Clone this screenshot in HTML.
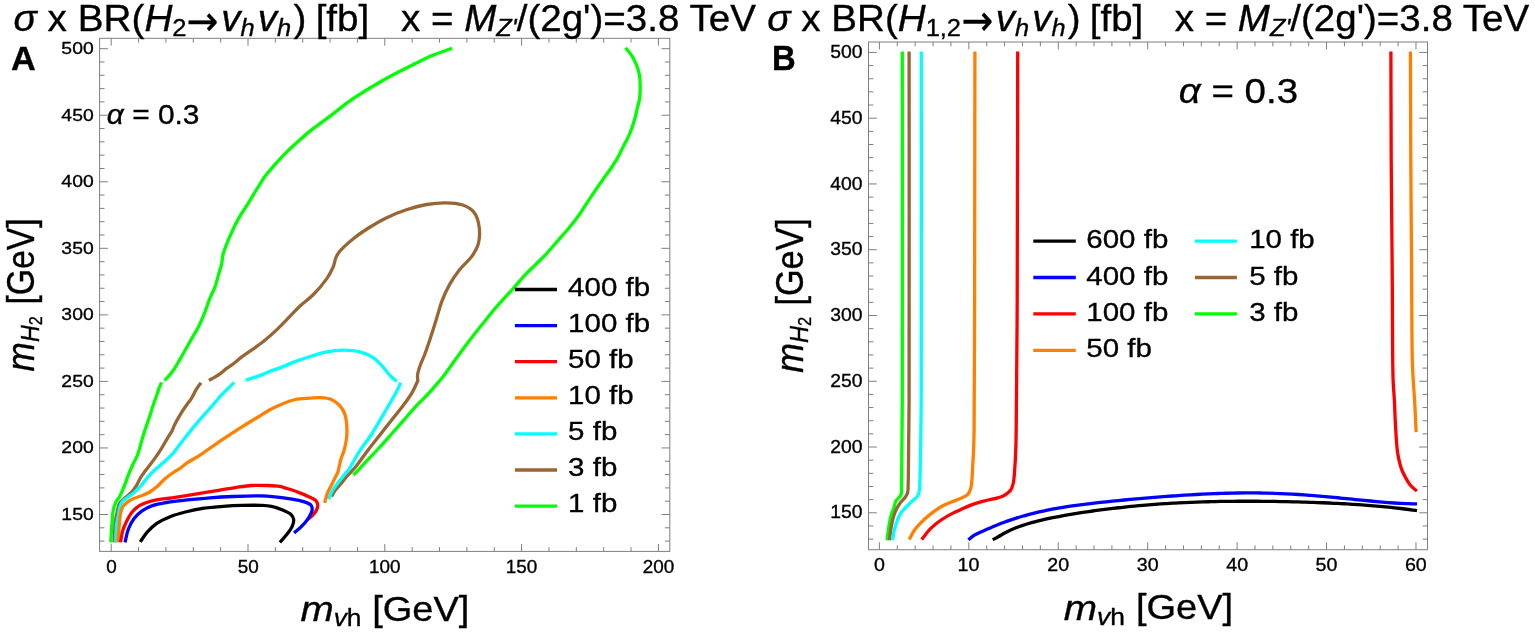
<!DOCTYPE html>
<html><head><meta charset="utf-8"><title>sigma x BR contours</title>
<style>html,body{margin:0;padding:0;background:#fff;} svg{display:block;}</style></head>
<body><svg width="1535" height="633" viewBox="0 0 1535 633" style="font-family:'Liberation Sans',Arial,sans-serif" fill="#000">
<rect width="1535" height="633" fill="#fff"/>
<rect x="99.6" y="38.3" width="570.1999999999999" height="513.1" fill="none" stroke="#7f7f7f" stroke-width="1"/>
<line x1="111.20" y1="551.4" x2="111.20" y2="544.0" stroke="#7f7f7f" stroke-width="1"/>
<line x1="111.20" y1="38.3" x2="111.20" y2="45.699999999999996" stroke="#7f7f7f" stroke-width="1"/>
<line x1="138.56" y1="551.4" x2="138.56" y2="547.1" stroke="#7f7f7f" stroke-width="1"/>
<line x1="138.56" y1="38.3" x2="138.56" y2="42.599999999999994" stroke="#7f7f7f" stroke-width="1"/>
<line x1="165.92" y1="551.4" x2="165.92" y2="547.1" stroke="#7f7f7f" stroke-width="1"/>
<line x1="165.92" y1="38.3" x2="165.92" y2="42.599999999999994" stroke="#7f7f7f" stroke-width="1"/>
<line x1="193.28" y1="551.4" x2="193.28" y2="547.1" stroke="#7f7f7f" stroke-width="1"/>
<line x1="193.28" y1="38.3" x2="193.28" y2="42.599999999999994" stroke="#7f7f7f" stroke-width="1"/>
<line x1="220.64" y1="551.4" x2="220.64" y2="547.1" stroke="#7f7f7f" stroke-width="1"/>
<line x1="220.64" y1="38.3" x2="220.64" y2="42.599999999999994" stroke="#7f7f7f" stroke-width="1"/>
<line x1="248.00" y1="551.4" x2="248.00" y2="544.0" stroke="#7f7f7f" stroke-width="1"/>
<line x1="248.00" y1="38.3" x2="248.00" y2="45.699999999999996" stroke="#7f7f7f" stroke-width="1"/>
<line x1="275.36" y1="551.4" x2="275.36" y2="547.1" stroke="#7f7f7f" stroke-width="1"/>
<line x1="275.36" y1="38.3" x2="275.36" y2="42.599999999999994" stroke="#7f7f7f" stroke-width="1"/>
<line x1="302.72" y1="551.4" x2="302.72" y2="547.1" stroke="#7f7f7f" stroke-width="1"/>
<line x1="302.72" y1="38.3" x2="302.72" y2="42.599999999999994" stroke="#7f7f7f" stroke-width="1"/>
<line x1="330.08" y1="551.4" x2="330.08" y2="547.1" stroke="#7f7f7f" stroke-width="1"/>
<line x1="330.08" y1="38.3" x2="330.08" y2="42.599999999999994" stroke="#7f7f7f" stroke-width="1"/>
<line x1="357.44" y1="551.4" x2="357.44" y2="547.1" stroke="#7f7f7f" stroke-width="1"/>
<line x1="357.44" y1="38.3" x2="357.44" y2="42.599999999999994" stroke="#7f7f7f" stroke-width="1"/>
<line x1="384.80" y1="551.4" x2="384.80" y2="544.0" stroke="#7f7f7f" stroke-width="1"/>
<line x1="384.80" y1="38.3" x2="384.80" y2="45.699999999999996" stroke="#7f7f7f" stroke-width="1"/>
<line x1="412.16" y1="551.4" x2="412.16" y2="547.1" stroke="#7f7f7f" stroke-width="1"/>
<line x1="412.16" y1="38.3" x2="412.16" y2="42.599999999999994" stroke="#7f7f7f" stroke-width="1"/>
<line x1="439.52" y1="551.4" x2="439.52" y2="547.1" stroke="#7f7f7f" stroke-width="1"/>
<line x1="439.52" y1="38.3" x2="439.52" y2="42.599999999999994" stroke="#7f7f7f" stroke-width="1"/>
<line x1="466.88" y1="551.4" x2="466.88" y2="547.1" stroke="#7f7f7f" stroke-width="1"/>
<line x1="466.88" y1="38.3" x2="466.88" y2="42.599999999999994" stroke="#7f7f7f" stroke-width="1"/>
<line x1="494.24" y1="551.4" x2="494.24" y2="547.1" stroke="#7f7f7f" stroke-width="1"/>
<line x1="494.24" y1="38.3" x2="494.24" y2="42.599999999999994" stroke="#7f7f7f" stroke-width="1"/>
<line x1="521.60" y1="551.4" x2="521.60" y2="544.0" stroke="#7f7f7f" stroke-width="1"/>
<line x1="521.60" y1="38.3" x2="521.60" y2="45.699999999999996" stroke="#7f7f7f" stroke-width="1"/>
<line x1="548.96" y1="551.4" x2="548.96" y2="547.1" stroke="#7f7f7f" stroke-width="1"/>
<line x1="548.96" y1="38.3" x2="548.96" y2="42.599999999999994" stroke="#7f7f7f" stroke-width="1"/>
<line x1="576.32" y1="551.4" x2="576.32" y2="547.1" stroke="#7f7f7f" stroke-width="1"/>
<line x1="576.32" y1="38.3" x2="576.32" y2="42.599999999999994" stroke="#7f7f7f" stroke-width="1"/>
<line x1="603.68" y1="551.4" x2="603.68" y2="547.1" stroke="#7f7f7f" stroke-width="1"/>
<line x1="603.68" y1="38.3" x2="603.68" y2="42.599999999999994" stroke="#7f7f7f" stroke-width="1"/>
<line x1="631.04" y1="551.4" x2="631.04" y2="547.1" stroke="#7f7f7f" stroke-width="1"/>
<line x1="631.04" y1="38.3" x2="631.04" y2="42.599999999999994" stroke="#7f7f7f" stroke-width="1"/>
<line x1="658.40" y1="551.4" x2="658.40" y2="544.0" stroke="#7f7f7f" stroke-width="1"/>
<line x1="658.40" y1="38.3" x2="658.40" y2="45.699999999999996" stroke="#7f7f7f" stroke-width="1"/>
<line x1="99.6" y1="541.12" x2="104.5" y2="541.12" stroke="#7f7f7f" stroke-width="1"/>
<line x1="669.8" y1="541.12" x2="664.9" y2="541.12" stroke="#7f7f7f" stroke-width="1"/>
<line x1="99.6" y1="527.81" x2="104.5" y2="527.81" stroke="#7f7f7f" stroke-width="1"/>
<line x1="669.8" y1="527.81" x2="664.9" y2="527.81" stroke="#7f7f7f" stroke-width="1"/>
<line x1="99.6" y1="514.50" x2="107.89999999999999" y2="514.50" stroke="#7f7f7f" stroke-width="1"/>
<line x1="669.8" y1="514.50" x2="661.5" y2="514.50" stroke="#7f7f7f" stroke-width="1"/>
<line x1="99.6" y1="501.19" x2="104.5" y2="501.19" stroke="#7f7f7f" stroke-width="1"/>
<line x1="669.8" y1="501.19" x2="664.9" y2="501.19" stroke="#7f7f7f" stroke-width="1"/>
<line x1="99.6" y1="487.88" x2="104.5" y2="487.88" stroke="#7f7f7f" stroke-width="1"/>
<line x1="669.8" y1="487.88" x2="664.9" y2="487.88" stroke="#7f7f7f" stroke-width="1"/>
<line x1="99.6" y1="474.57" x2="104.5" y2="474.57" stroke="#7f7f7f" stroke-width="1"/>
<line x1="669.8" y1="474.57" x2="664.9" y2="474.57" stroke="#7f7f7f" stroke-width="1"/>
<line x1="99.6" y1="461.26" x2="104.5" y2="461.26" stroke="#7f7f7f" stroke-width="1"/>
<line x1="669.8" y1="461.26" x2="664.9" y2="461.26" stroke="#7f7f7f" stroke-width="1"/>
<line x1="99.6" y1="447.95" x2="107.89999999999999" y2="447.95" stroke="#7f7f7f" stroke-width="1"/>
<line x1="669.8" y1="447.95" x2="661.5" y2="447.95" stroke="#7f7f7f" stroke-width="1"/>
<line x1="99.6" y1="434.65" x2="104.5" y2="434.65" stroke="#7f7f7f" stroke-width="1"/>
<line x1="669.8" y1="434.65" x2="664.9" y2="434.65" stroke="#7f7f7f" stroke-width="1"/>
<line x1="99.6" y1="421.34" x2="104.5" y2="421.34" stroke="#7f7f7f" stroke-width="1"/>
<line x1="669.8" y1="421.34" x2="664.9" y2="421.34" stroke="#7f7f7f" stroke-width="1"/>
<line x1="99.6" y1="408.03" x2="104.5" y2="408.03" stroke="#7f7f7f" stroke-width="1"/>
<line x1="669.8" y1="408.03" x2="664.9" y2="408.03" stroke="#7f7f7f" stroke-width="1"/>
<line x1="99.6" y1="394.72" x2="104.5" y2="394.72" stroke="#7f7f7f" stroke-width="1"/>
<line x1="669.8" y1="394.72" x2="664.9" y2="394.72" stroke="#7f7f7f" stroke-width="1"/>
<line x1="99.6" y1="381.41" x2="107.89999999999999" y2="381.41" stroke="#7f7f7f" stroke-width="1"/>
<line x1="669.8" y1="381.41" x2="661.5" y2="381.41" stroke="#7f7f7f" stroke-width="1"/>
<line x1="99.6" y1="368.10" x2="104.5" y2="368.10" stroke="#7f7f7f" stroke-width="1"/>
<line x1="669.8" y1="368.10" x2="664.9" y2="368.10" stroke="#7f7f7f" stroke-width="1"/>
<line x1="99.6" y1="354.79" x2="104.5" y2="354.79" stroke="#7f7f7f" stroke-width="1"/>
<line x1="669.8" y1="354.79" x2="664.9" y2="354.79" stroke="#7f7f7f" stroke-width="1"/>
<line x1="99.6" y1="341.48" x2="104.5" y2="341.48" stroke="#7f7f7f" stroke-width="1"/>
<line x1="669.8" y1="341.48" x2="664.9" y2="341.48" stroke="#7f7f7f" stroke-width="1"/>
<line x1="99.6" y1="328.17" x2="104.5" y2="328.17" stroke="#7f7f7f" stroke-width="1"/>
<line x1="669.8" y1="328.17" x2="664.9" y2="328.17" stroke="#7f7f7f" stroke-width="1"/>
<line x1="99.6" y1="314.87" x2="107.89999999999999" y2="314.87" stroke="#7f7f7f" stroke-width="1"/>
<line x1="669.8" y1="314.87" x2="661.5" y2="314.87" stroke="#7f7f7f" stroke-width="1"/>
<line x1="99.6" y1="301.56" x2="104.5" y2="301.56" stroke="#7f7f7f" stroke-width="1"/>
<line x1="669.8" y1="301.56" x2="664.9" y2="301.56" stroke="#7f7f7f" stroke-width="1"/>
<line x1="99.6" y1="288.25" x2="104.5" y2="288.25" stroke="#7f7f7f" stroke-width="1"/>
<line x1="669.8" y1="288.25" x2="664.9" y2="288.25" stroke="#7f7f7f" stroke-width="1"/>
<line x1="99.6" y1="274.94" x2="104.5" y2="274.94" stroke="#7f7f7f" stroke-width="1"/>
<line x1="669.8" y1="274.94" x2="664.9" y2="274.94" stroke="#7f7f7f" stroke-width="1"/>
<line x1="99.6" y1="261.63" x2="104.5" y2="261.63" stroke="#7f7f7f" stroke-width="1"/>
<line x1="669.8" y1="261.63" x2="664.9" y2="261.63" stroke="#7f7f7f" stroke-width="1"/>
<line x1="99.6" y1="248.32" x2="107.89999999999999" y2="248.32" stroke="#7f7f7f" stroke-width="1"/>
<line x1="669.8" y1="248.32" x2="661.5" y2="248.32" stroke="#7f7f7f" stroke-width="1"/>
<line x1="99.6" y1="235.01" x2="104.5" y2="235.01" stroke="#7f7f7f" stroke-width="1"/>
<line x1="669.8" y1="235.01" x2="664.9" y2="235.01" stroke="#7f7f7f" stroke-width="1"/>
<line x1="99.6" y1="221.70" x2="104.5" y2="221.70" stroke="#7f7f7f" stroke-width="1"/>
<line x1="669.8" y1="221.70" x2="664.9" y2="221.70" stroke="#7f7f7f" stroke-width="1"/>
<line x1="99.6" y1="208.39" x2="104.5" y2="208.39" stroke="#7f7f7f" stroke-width="1"/>
<line x1="669.8" y1="208.39" x2="664.9" y2="208.39" stroke="#7f7f7f" stroke-width="1"/>
<line x1="99.6" y1="195.08" x2="104.5" y2="195.08" stroke="#7f7f7f" stroke-width="1"/>
<line x1="669.8" y1="195.08" x2="664.9" y2="195.08" stroke="#7f7f7f" stroke-width="1"/>
<line x1="99.6" y1="181.78" x2="107.89999999999999" y2="181.78" stroke="#7f7f7f" stroke-width="1"/>
<line x1="669.8" y1="181.78" x2="661.5" y2="181.78" stroke="#7f7f7f" stroke-width="1"/>
<line x1="99.6" y1="168.47" x2="104.5" y2="168.47" stroke="#7f7f7f" stroke-width="1"/>
<line x1="669.8" y1="168.47" x2="664.9" y2="168.47" stroke="#7f7f7f" stroke-width="1"/>
<line x1="99.6" y1="155.16" x2="104.5" y2="155.16" stroke="#7f7f7f" stroke-width="1"/>
<line x1="669.8" y1="155.16" x2="664.9" y2="155.16" stroke="#7f7f7f" stroke-width="1"/>
<line x1="99.6" y1="141.85" x2="104.5" y2="141.85" stroke="#7f7f7f" stroke-width="1"/>
<line x1="669.8" y1="141.85" x2="664.9" y2="141.85" stroke="#7f7f7f" stroke-width="1"/>
<line x1="99.6" y1="128.54" x2="104.5" y2="128.54" stroke="#7f7f7f" stroke-width="1"/>
<line x1="669.8" y1="128.54" x2="664.9" y2="128.54" stroke="#7f7f7f" stroke-width="1"/>
<line x1="99.6" y1="115.23" x2="107.89999999999999" y2="115.23" stroke="#7f7f7f" stroke-width="1"/>
<line x1="669.8" y1="115.23" x2="661.5" y2="115.23" stroke="#7f7f7f" stroke-width="1"/>
<line x1="99.6" y1="101.92" x2="104.5" y2="101.92" stroke="#7f7f7f" stroke-width="1"/>
<line x1="669.8" y1="101.92" x2="664.9" y2="101.92" stroke="#7f7f7f" stroke-width="1"/>
<line x1="99.6" y1="88.61" x2="104.5" y2="88.61" stroke="#7f7f7f" stroke-width="1"/>
<line x1="669.8" y1="88.61" x2="664.9" y2="88.61" stroke="#7f7f7f" stroke-width="1"/>
<line x1="99.6" y1="75.30" x2="104.5" y2="75.30" stroke="#7f7f7f" stroke-width="1"/>
<line x1="669.8" y1="75.30" x2="664.9" y2="75.30" stroke="#7f7f7f" stroke-width="1"/>
<line x1="99.6" y1="61.99" x2="104.5" y2="61.99" stroke="#7f7f7f" stroke-width="1"/>
<line x1="669.8" y1="61.99" x2="664.9" y2="61.99" stroke="#7f7f7f" stroke-width="1"/>
<line x1="99.6" y1="48.69" x2="107.89999999999999" y2="48.69" stroke="#7f7f7f" stroke-width="1"/>
<line x1="669.8" y1="48.69" x2="661.5" y2="48.69" stroke="#7f7f7f" stroke-width="1"/>
<rect x="868.5" y="42.0" width="559.0" height="507.70000000000005" fill="none" stroke="#7f7f7f" stroke-width="1"/>
<line x1="879.40" y1="549.7" x2="879.40" y2="542.3000000000001" stroke="#7f7f7f" stroke-width="1"/>
<line x1="879.40" y1="42.0" x2="879.40" y2="49.4" stroke="#7f7f7f" stroke-width="1"/>
<line x1="897.29" y1="549.7" x2="897.29" y2="545.4000000000001" stroke="#7f7f7f" stroke-width="1"/>
<line x1="897.29" y1="42.0" x2="897.29" y2="46.3" stroke="#7f7f7f" stroke-width="1"/>
<line x1="915.17" y1="549.7" x2="915.17" y2="545.4000000000001" stroke="#7f7f7f" stroke-width="1"/>
<line x1="915.17" y1="42.0" x2="915.17" y2="46.3" stroke="#7f7f7f" stroke-width="1"/>
<line x1="933.06" y1="549.7" x2="933.06" y2="545.4000000000001" stroke="#7f7f7f" stroke-width="1"/>
<line x1="933.06" y1="42.0" x2="933.06" y2="46.3" stroke="#7f7f7f" stroke-width="1"/>
<line x1="950.94" y1="549.7" x2="950.94" y2="545.4000000000001" stroke="#7f7f7f" stroke-width="1"/>
<line x1="950.94" y1="42.0" x2="950.94" y2="46.3" stroke="#7f7f7f" stroke-width="1"/>
<line x1="968.83" y1="549.7" x2="968.83" y2="542.3000000000001" stroke="#7f7f7f" stroke-width="1"/>
<line x1="968.83" y1="42.0" x2="968.83" y2="49.4" stroke="#7f7f7f" stroke-width="1"/>
<line x1="986.72" y1="549.7" x2="986.72" y2="545.4000000000001" stroke="#7f7f7f" stroke-width="1"/>
<line x1="986.72" y1="42.0" x2="986.72" y2="46.3" stroke="#7f7f7f" stroke-width="1"/>
<line x1="1004.60" y1="549.7" x2="1004.60" y2="545.4000000000001" stroke="#7f7f7f" stroke-width="1"/>
<line x1="1004.60" y1="42.0" x2="1004.60" y2="46.3" stroke="#7f7f7f" stroke-width="1"/>
<line x1="1022.49" y1="549.7" x2="1022.49" y2="545.4000000000001" stroke="#7f7f7f" stroke-width="1"/>
<line x1="1022.49" y1="42.0" x2="1022.49" y2="46.3" stroke="#7f7f7f" stroke-width="1"/>
<line x1="1040.37" y1="549.7" x2="1040.37" y2="545.4000000000001" stroke="#7f7f7f" stroke-width="1"/>
<line x1="1040.37" y1="42.0" x2="1040.37" y2="46.3" stroke="#7f7f7f" stroke-width="1"/>
<line x1="1058.26" y1="549.7" x2="1058.26" y2="542.3000000000001" stroke="#7f7f7f" stroke-width="1"/>
<line x1="1058.26" y1="42.0" x2="1058.26" y2="49.4" stroke="#7f7f7f" stroke-width="1"/>
<line x1="1076.15" y1="549.7" x2="1076.15" y2="545.4000000000001" stroke="#7f7f7f" stroke-width="1"/>
<line x1="1076.15" y1="42.0" x2="1076.15" y2="46.3" stroke="#7f7f7f" stroke-width="1"/>
<line x1="1094.03" y1="549.7" x2="1094.03" y2="545.4000000000001" stroke="#7f7f7f" stroke-width="1"/>
<line x1="1094.03" y1="42.0" x2="1094.03" y2="46.3" stroke="#7f7f7f" stroke-width="1"/>
<line x1="1111.92" y1="549.7" x2="1111.92" y2="545.4000000000001" stroke="#7f7f7f" stroke-width="1"/>
<line x1="1111.92" y1="42.0" x2="1111.92" y2="46.3" stroke="#7f7f7f" stroke-width="1"/>
<line x1="1129.80" y1="549.7" x2="1129.80" y2="545.4000000000001" stroke="#7f7f7f" stroke-width="1"/>
<line x1="1129.80" y1="42.0" x2="1129.80" y2="46.3" stroke="#7f7f7f" stroke-width="1"/>
<line x1="1147.69" y1="549.7" x2="1147.69" y2="542.3000000000001" stroke="#7f7f7f" stroke-width="1"/>
<line x1="1147.69" y1="42.0" x2="1147.69" y2="49.4" stroke="#7f7f7f" stroke-width="1"/>
<line x1="1165.58" y1="549.7" x2="1165.58" y2="545.4000000000001" stroke="#7f7f7f" stroke-width="1"/>
<line x1="1165.58" y1="42.0" x2="1165.58" y2="46.3" stroke="#7f7f7f" stroke-width="1"/>
<line x1="1183.46" y1="549.7" x2="1183.46" y2="545.4000000000001" stroke="#7f7f7f" stroke-width="1"/>
<line x1="1183.46" y1="42.0" x2="1183.46" y2="46.3" stroke="#7f7f7f" stroke-width="1"/>
<line x1="1201.35" y1="549.7" x2="1201.35" y2="545.4000000000001" stroke="#7f7f7f" stroke-width="1"/>
<line x1="1201.35" y1="42.0" x2="1201.35" y2="46.3" stroke="#7f7f7f" stroke-width="1"/>
<line x1="1219.23" y1="549.7" x2="1219.23" y2="545.4000000000001" stroke="#7f7f7f" stroke-width="1"/>
<line x1="1219.23" y1="42.0" x2="1219.23" y2="46.3" stroke="#7f7f7f" stroke-width="1"/>
<line x1="1237.12" y1="549.7" x2="1237.12" y2="542.3000000000001" stroke="#7f7f7f" stroke-width="1"/>
<line x1="1237.12" y1="42.0" x2="1237.12" y2="49.4" stroke="#7f7f7f" stroke-width="1"/>
<line x1="1255.01" y1="549.7" x2="1255.01" y2="545.4000000000001" stroke="#7f7f7f" stroke-width="1"/>
<line x1="1255.01" y1="42.0" x2="1255.01" y2="46.3" stroke="#7f7f7f" stroke-width="1"/>
<line x1="1272.89" y1="549.7" x2="1272.89" y2="545.4000000000001" stroke="#7f7f7f" stroke-width="1"/>
<line x1="1272.89" y1="42.0" x2="1272.89" y2="46.3" stroke="#7f7f7f" stroke-width="1"/>
<line x1="1290.78" y1="549.7" x2="1290.78" y2="545.4000000000001" stroke="#7f7f7f" stroke-width="1"/>
<line x1="1290.78" y1="42.0" x2="1290.78" y2="46.3" stroke="#7f7f7f" stroke-width="1"/>
<line x1="1308.66" y1="549.7" x2="1308.66" y2="545.4000000000001" stroke="#7f7f7f" stroke-width="1"/>
<line x1="1308.66" y1="42.0" x2="1308.66" y2="46.3" stroke="#7f7f7f" stroke-width="1"/>
<line x1="1326.55" y1="549.7" x2="1326.55" y2="542.3000000000001" stroke="#7f7f7f" stroke-width="1"/>
<line x1="1326.55" y1="42.0" x2="1326.55" y2="49.4" stroke="#7f7f7f" stroke-width="1"/>
<line x1="1344.44" y1="549.7" x2="1344.44" y2="545.4000000000001" stroke="#7f7f7f" stroke-width="1"/>
<line x1="1344.44" y1="42.0" x2="1344.44" y2="46.3" stroke="#7f7f7f" stroke-width="1"/>
<line x1="1362.32" y1="549.7" x2="1362.32" y2="545.4000000000001" stroke="#7f7f7f" stroke-width="1"/>
<line x1="1362.32" y1="42.0" x2="1362.32" y2="46.3" stroke="#7f7f7f" stroke-width="1"/>
<line x1="1380.21" y1="549.7" x2="1380.21" y2="545.4000000000001" stroke="#7f7f7f" stroke-width="1"/>
<line x1="1380.21" y1="42.0" x2="1380.21" y2="46.3" stroke="#7f7f7f" stroke-width="1"/>
<line x1="1398.09" y1="549.7" x2="1398.09" y2="545.4000000000001" stroke="#7f7f7f" stroke-width="1"/>
<line x1="1398.09" y1="42.0" x2="1398.09" y2="46.3" stroke="#7f7f7f" stroke-width="1"/>
<line x1="1415.98" y1="549.7" x2="1415.98" y2="542.3000000000001" stroke="#7f7f7f" stroke-width="1"/>
<line x1="1415.98" y1="42.0" x2="1415.98" y2="49.4" stroke="#7f7f7f" stroke-width="1"/>
<line x1="868.5" y1="539.11" x2="873.4" y2="539.11" stroke="#7f7f7f" stroke-width="1"/>
<line x1="1427.5" y1="539.11" x2="1422.6" y2="539.11" stroke="#7f7f7f" stroke-width="1"/>
<line x1="868.5" y1="525.95" x2="873.4" y2="525.95" stroke="#7f7f7f" stroke-width="1"/>
<line x1="1427.5" y1="525.95" x2="1422.6" y2="525.95" stroke="#7f7f7f" stroke-width="1"/>
<line x1="868.5" y1="512.80" x2="876.8" y2="512.80" stroke="#7f7f7f" stroke-width="1"/>
<line x1="1427.5" y1="512.80" x2="1419.2" y2="512.80" stroke="#7f7f7f" stroke-width="1"/>
<line x1="868.5" y1="499.65" x2="873.4" y2="499.65" stroke="#7f7f7f" stroke-width="1"/>
<line x1="1427.5" y1="499.65" x2="1422.6" y2="499.65" stroke="#7f7f7f" stroke-width="1"/>
<line x1="868.5" y1="486.49" x2="873.4" y2="486.49" stroke="#7f7f7f" stroke-width="1"/>
<line x1="1427.5" y1="486.49" x2="1422.6" y2="486.49" stroke="#7f7f7f" stroke-width="1"/>
<line x1="868.5" y1="473.34" x2="873.4" y2="473.34" stroke="#7f7f7f" stroke-width="1"/>
<line x1="1427.5" y1="473.34" x2="1422.6" y2="473.34" stroke="#7f7f7f" stroke-width="1"/>
<line x1="868.5" y1="460.18" x2="873.4" y2="460.18" stroke="#7f7f7f" stroke-width="1"/>
<line x1="1427.5" y1="460.18" x2="1422.6" y2="460.18" stroke="#7f7f7f" stroke-width="1"/>
<line x1="868.5" y1="447.03" x2="876.8" y2="447.03" stroke="#7f7f7f" stroke-width="1"/>
<line x1="1427.5" y1="447.03" x2="1419.2" y2="447.03" stroke="#7f7f7f" stroke-width="1"/>
<line x1="868.5" y1="433.88" x2="873.4" y2="433.88" stroke="#7f7f7f" stroke-width="1"/>
<line x1="1427.5" y1="433.88" x2="1422.6" y2="433.88" stroke="#7f7f7f" stroke-width="1"/>
<line x1="868.5" y1="420.72" x2="873.4" y2="420.72" stroke="#7f7f7f" stroke-width="1"/>
<line x1="1427.5" y1="420.72" x2="1422.6" y2="420.72" stroke="#7f7f7f" stroke-width="1"/>
<line x1="868.5" y1="407.57" x2="873.4" y2="407.57" stroke="#7f7f7f" stroke-width="1"/>
<line x1="1427.5" y1="407.57" x2="1422.6" y2="407.57" stroke="#7f7f7f" stroke-width="1"/>
<line x1="868.5" y1="394.41" x2="873.4" y2="394.41" stroke="#7f7f7f" stroke-width="1"/>
<line x1="1427.5" y1="394.41" x2="1422.6" y2="394.41" stroke="#7f7f7f" stroke-width="1"/>
<line x1="868.5" y1="381.26" x2="876.8" y2="381.26" stroke="#7f7f7f" stroke-width="1"/>
<line x1="1427.5" y1="381.26" x2="1419.2" y2="381.26" stroke="#7f7f7f" stroke-width="1"/>
<line x1="868.5" y1="368.11" x2="873.4" y2="368.11" stroke="#7f7f7f" stroke-width="1"/>
<line x1="1427.5" y1="368.11" x2="1422.6" y2="368.11" stroke="#7f7f7f" stroke-width="1"/>
<line x1="868.5" y1="354.95" x2="873.4" y2="354.95" stroke="#7f7f7f" stroke-width="1"/>
<line x1="1427.5" y1="354.95" x2="1422.6" y2="354.95" stroke="#7f7f7f" stroke-width="1"/>
<line x1="868.5" y1="341.80" x2="873.4" y2="341.80" stroke="#7f7f7f" stroke-width="1"/>
<line x1="1427.5" y1="341.80" x2="1422.6" y2="341.80" stroke="#7f7f7f" stroke-width="1"/>
<line x1="868.5" y1="328.64" x2="873.4" y2="328.64" stroke="#7f7f7f" stroke-width="1"/>
<line x1="1427.5" y1="328.64" x2="1422.6" y2="328.64" stroke="#7f7f7f" stroke-width="1"/>
<line x1="868.5" y1="315.49" x2="876.8" y2="315.49" stroke="#7f7f7f" stroke-width="1"/>
<line x1="1427.5" y1="315.49" x2="1419.2" y2="315.49" stroke="#7f7f7f" stroke-width="1"/>
<line x1="868.5" y1="302.34" x2="873.4" y2="302.34" stroke="#7f7f7f" stroke-width="1"/>
<line x1="1427.5" y1="302.34" x2="1422.6" y2="302.34" stroke="#7f7f7f" stroke-width="1"/>
<line x1="868.5" y1="289.18" x2="873.4" y2="289.18" stroke="#7f7f7f" stroke-width="1"/>
<line x1="1427.5" y1="289.18" x2="1422.6" y2="289.18" stroke="#7f7f7f" stroke-width="1"/>
<line x1="868.5" y1="276.03" x2="873.4" y2="276.03" stroke="#7f7f7f" stroke-width="1"/>
<line x1="1427.5" y1="276.03" x2="1422.6" y2="276.03" stroke="#7f7f7f" stroke-width="1"/>
<line x1="868.5" y1="262.87" x2="873.4" y2="262.87" stroke="#7f7f7f" stroke-width="1"/>
<line x1="1427.5" y1="262.87" x2="1422.6" y2="262.87" stroke="#7f7f7f" stroke-width="1"/>
<line x1="868.5" y1="249.72" x2="876.8" y2="249.72" stroke="#7f7f7f" stroke-width="1"/>
<line x1="1427.5" y1="249.72" x2="1419.2" y2="249.72" stroke="#7f7f7f" stroke-width="1"/>
<line x1="868.5" y1="236.57" x2="873.4" y2="236.57" stroke="#7f7f7f" stroke-width="1"/>
<line x1="1427.5" y1="236.57" x2="1422.6" y2="236.57" stroke="#7f7f7f" stroke-width="1"/>
<line x1="868.5" y1="223.41" x2="873.4" y2="223.41" stroke="#7f7f7f" stroke-width="1"/>
<line x1="1427.5" y1="223.41" x2="1422.6" y2="223.41" stroke="#7f7f7f" stroke-width="1"/>
<line x1="868.5" y1="210.26" x2="873.4" y2="210.26" stroke="#7f7f7f" stroke-width="1"/>
<line x1="1427.5" y1="210.26" x2="1422.6" y2="210.26" stroke="#7f7f7f" stroke-width="1"/>
<line x1="868.5" y1="197.10" x2="873.4" y2="197.10" stroke="#7f7f7f" stroke-width="1"/>
<line x1="1427.5" y1="197.10" x2="1422.6" y2="197.10" stroke="#7f7f7f" stroke-width="1"/>
<line x1="868.5" y1="183.95" x2="876.8" y2="183.95" stroke="#7f7f7f" stroke-width="1"/>
<line x1="1427.5" y1="183.95" x2="1419.2" y2="183.95" stroke="#7f7f7f" stroke-width="1"/>
<line x1="868.5" y1="170.80" x2="873.4" y2="170.80" stroke="#7f7f7f" stroke-width="1"/>
<line x1="1427.5" y1="170.80" x2="1422.6" y2="170.80" stroke="#7f7f7f" stroke-width="1"/>
<line x1="868.5" y1="157.64" x2="873.4" y2="157.64" stroke="#7f7f7f" stroke-width="1"/>
<line x1="1427.5" y1="157.64" x2="1422.6" y2="157.64" stroke="#7f7f7f" stroke-width="1"/>
<line x1="868.5" y1="144.49" x2="873.4" y2="144.49" stroke="#7f7f7f" stroke-width="1"/>
<line x1="1427.5" y1="144.49" x2="1422.6" y2="144.49" stroke="#7f7f7f" stroke-width="1"/>
<line x1="868.5" y1="131.33" x2="873.4" y2="131.33" stroke="#7f7f7f" stroke-width="1"/>
<line x1="1427.5" y1="131.33" x2="1422.6" y2="131.33" stroke="#7f7f7f" stroke-width="1"/>
<line x1="868.5" y1="118.18" x2="876.8" y2="118.18" stroke="#7f7f7f" stroke-width="1"/>
<line x1="1427.5" y1="118.18" x2="1419.2" y2="118.18" stroke="#7f7f7f" stroke-width="1"/>
<line x1="868.5" y1="105.03" x2="873.4" y2="105.03" stroke="#7f7f7f" stroke-width="1"/>
<line x1="1427.5" y1="105.03" x2="1422.6" y2="105.03" stroke="#7f7f7f" stroke-width="1"/>
<line x1="868.5" y1="91.87" x2="873.4" y2="91.87" stroke="#7f7f7f" stroke-width="1"/>
<line x1="1427.5" y1="91.87" x2="1422.6" y2="91.87" stroke="#7f7f7f" stroke-width="1"/>
<line x1="868.5" y1="78.72" x2="873.4" y2="78.72" stroke="#7f7f7f" stroke-width="1"/>
<line x1="1427.5" y1="78.72" x2="1422.6" y2="78.72" stroke="#7f7f7f" stroke-width="1"/>
<line x1="868.5" y1="65.56" x2="873.4" y2="65.56" stroke="#7f7f7f" stroke-width="1"/>
<line x1="1427.5" y1="65.56" x2="1422.6" y2="65.56" stroke="#7f7f7f" stroke-width="1"/>
<line x1="868.5" y1="52.41" x2="876.8" y2="52.41" stroke="#7f7f7f" stroke-width="1"/>
<line x1="1427.5" y1="52.41" x2="1419.2" y2="52.41" stroke="#7f7f7f" stroke-width="1"/>
<path d="M164.50,380.50 C165.90,379.07 167.26,377.87 168.70,376.20 C170.47,374.15 172.43,371.61 174.20,369.00 C176.14,366.13 177.90,362.87 179.80,359.60 C181.86,356.06 184.00,352.20 186.10,348.50 C188.20,344.80 190.30,341.09 192.40,337.40 C194.50,333.72 196.75,330.25 198.70,326.40 C200.74,322.37 202.54,318.09 204.30,313.70 C206.15,309.10 207.65,304.04 209.50,299.40 C211.29,294.88 213.61,290.66 215.20,286.20 C216.76,281.82 217.82,276.96 219.00,272.90 C220.00,269.47 221.18,266.42 221.80,263.40 C222.34,260.75 222.08,258.55 222.70,255.80 C223.47,252.37 225.02,248.39 226.50,244.50 C228.14,240.22 230.15,235.60 232.20,231.20 C234.28,226.73 236.41,222.27 238.90,217.90 C241.46,213.40 244.50,209.25 247.40,204.60 C250.55,199.55 253.92,193.75 257.10,188.70 C260.05,184.02 262.69,179.46 265.80,175.30 C268.77,171.32 271.98,167.92 275.30,164.20 C278.79,160.29 282.56,156.14 286.30,152.40 C289.93,148.78 293.56,145.56 297.40,142.10 C301.44,138.46 305.73,134.56 310.00,131.10 C314.16,127.73 318.48,124.77 322.70,121.60 C326.91,118.44 330.99,115.40 335.30,112.10 C339.90,108.58 343.60,105.20 349.50,101.10 C358.37,94.94 372.61,86.16 384.00,79.70 C394.69,73.64 407.01,67.65 415.80,63.30 C421.95,60.26 425.93,58.18 431.60,55.80 C437.93,53.15 445.27,50.80 452.10,48.30" fill="none" stroke="#00ff00" stroke-width="3.3" stroke-linejoin="round" stroke-linecap="butt"/>
<path d="M161.50,382.30 C160.70,384.27 159.87,386.13 159.10,388.20 C158.26,390.45 157.56,392.82 156.70,395.30 C155.74,398.06 154.60,401.04 153.60,404.00 C152.57,407.06 151.84,409.59 150.60,413.40 C148.66,419.35 145.27,428.95 143.00,436.20 C140.95,442.75 139.50,449.86 137.50,455.00 C136.03,458.78 134.33,461.16 132.80,464.50 C131.15,468.10 129.47,472.17 128.00,475.90 C126.61,479.43 125.60,482.86 124.20,486.30 C122.77,489.79 121.11,493.80 119.50,496.70 C118.26,498.94 116.71,500.28 115.70,502.40 C114.61,504.68 113.86,507.29 113.30,510.00 C112.68,512.98 112.61,516.27 112.30,519.60 C111.97,523.21 111.65,527.12 111.40,530.90 C111.15,534.69 111.00,538.50 110.80,542.30" fill="none" stroke="#00ff00" stroke-width="3.3" stroke-linejoin="round" stroke-linecap="butt"/>
<path d="M625.50,47.90 C627.63,50.53 630.06,52.94 631.90,55.80 C633.78,58.73 635.34,62.08 636.60,65.30 C637.82,68.41 638.80,71.48 639.40,74.80 C640.04,78.30 640.15,82.00 640.20,85.80 C640.25,89.88 640.14,94.61 639.60,98.50 C639.13,101.89 638.24,104.42 637.40,107.90 C636.34,112.26 635.15,117.92 633.70,122.60 C632.33,127.03 630.77,131.27 629.00,135.30 C627.31,139.15 625.25,142.62 623.40,146.30 C621.55,149.99 619.96,153.76 617.90,157.40 C615.77,161.16 613.28,164.84 610.80,168.50 C608.28,172.21 605.58,175.70 602.90,179.50 C600.05,183.54 597.14,187.75 594.20,192.10 C591.08,196.70 587.37,202.35 584.70,206.40 C582.73,209.39 581.70,211.26 579.60,214.20 C576.67,218.30 572.27,223.94 568.50,228.50 C564.87,232.89 561.08,236.88 557.40,241.10 C553.72,245.32 550.15,249.79 546.40,253.80 C542.78,257.67 539.00,261.12 535.30,264.80 C531.60,268.49 527.83,272.02 524.20,275.90 C520.46,279.91 516.45,284.89 513.20,288.50 C510.69,291.29 508.99,292.95 506.40,295.80 C502.82,299.74 497.95,305.09 493.80,310.00 C489.51,315.08 485.32,320.52 481.10,325.80 C476.88,331.08 472.66,336.25 468.50,341.70 C464.22,347.31 460.02,353.22 455.80,359.00 C451.58,364.78 446.35,372.33 443.20,376.40 C441.44,378.68 440.33,379.87 438.90,381.60 C435.23,385.80 431.76,390.06 427.90,394.20 C423.91,398.47 419.26,402.52 415.30,406.80 C411.48,410.93 408.29,415.06 404.50,419.40 C400.39,424.11 395.75,429.23 391.50,434.00 C387.42,438.59 383.53,443.10 379.50,447.50 C375.53,451.83 371.65,455.81 367.50,460.20 C363.01,464.95 358.17,470.07 353.50,475.00" fill="none" stroke="#00ff00" stroke-width="3.3" stroke-linejoin="round" stroke-linecap="butt"/>
<path d="M208.80,380.30 C210.80,379.23 212.86,378.23 214.80,377.10 C216.70,375.99 218.45,374.95 220.30,373.60 C222.37,372.09 224.46,370.01 226.60,368.40 C228.67,366.85 230.66,365.77 232.90,364.10 C235.65,362.05 238.57,359.33 241.80,356.90 C245.43,354.17 249.77,351.45 253.70,348.60 C257.67,345.72 261.62,342.88 265.50,339.70 C269.53,336.40 273.50,332.80 277.40,329.10 C281.40,325.31 285.37,321.12 289.20,317.20 C292.89,313.42 296.15,309.63 300.00,306.00 C304.02,302.22 308.69,299.23 312.90,295.00 C317.64,290.24 323.25,283.74 326.80,278.60 C329.56,274.60 331.52,270.97 333.10,267.20 C334.52,263.81 334.76,259.99 336.10,257.10 C337.23,254.66 338.26,253.10 340.20,250.80 C343.20,247.25 348.64,242.47 353.30,238.70 C358.06,234.85 363.16,231.40 368.50,228.00 C374.10,224.45 380.00,220.90 386.20,217.90 C392.61,214.80 399.60,212.05 406.40,209.80 C413.07,207.60 419.92,205.67 426.60,204.50 C432.98,203.39 439.50,202.70 445.60,202.80 C451.27,202.89 457.18,203.15 462.00,204.80 C466.32,206.28 470.64,208.50 473.40,211.60 C476.08,214.61 477.55,218.54 478.50,223.00 C479.71,228.67 479.86,237.38 478.50,243.20 C477.36,248.07 475.03,251.77 472.20,255.90 C468.94,260.66 463.33,264.92 459.50,269.80 C455.74,274.59 452.35,279.63 449.40,284.90 C446.45,290.17 443.92,295.84 441.80,301.40 C439.74,306.81 438.59,312.05 436.80,317.80 C434.81,324.19 432.53,331.57 430.40,338.00 C428.43,343.92 426.35,350.18 424.50,355.00 C423.10,358.65 421.64,361.24 420.50,364.50 C419.34,367.81 417.97,371.71 417.60,374.70 C417.32,376.97 417.73,378.77 417.80,380.80 C415.90,384.73 414.39,388.67 412.10,392.60 C409.60,396.90 406.41,401.18 403.20,405.50 C399.78,410.11 395.88,414.62 392.10,419.40 C388.12,424.44 383.88,429.93 379.90,435.00 C376.09,439.85 372.42,444.31 368.70,449.20 C364.82,454.29 359.88,461.45 357.10,465.00 C355.63,466.88 354.98,467.64 353.60,469.20 C351.75,471.28 349.06,473.83 346.90,476.30 C344.69,478.82 342.57,481.73 340.50,484.20 C338.62,486.44 336.54,488.35 335.00,490.50 C333.59,492.46 332.67,494.50 331.50,496.50" fill="none" stroke="#996633" stroke-width="3.3" stroke-linejoin="round" stroke-linecap="butt"/>
<path d="M201.00,382.70 C199.43,384.93 197.80,386.97 196.30,389.40 C194.65,392.07 193.23,395.48 191.60,398.10 C190.15,400.42 188.69,402.14 187.10,404.40 C185.28,406.99 183.25,409.65 181.30,412.80 C178.96,416.57 175.78,422.32 174.20,425.60 C173.26,427.55 173.12,428.57 172.20,430.40 C170.85,433.07 168.39,436.73 166.50,439.90 C164.62,443.06 162.82,446.35 160.90,449.40 C159.05,452.34 157.14,455.17 155.20,457.90 C153.33,460.53 151.29,463.17 149.50,465.50 C147.95,467.52 146.56,469.13 145.10,471.10 C143.53,473.21 141.81,475.44 140.40,477.80 C138.97,480.20 138.12,482.93 136.60,485.40 C134.99,488.01 133.02,490.77 130.90,493.00 C128.87,495.14 126.20,496.76 124.20,498.60 C122.45,500.22 120.60,501.51 119.50,503.40 C118.39,505.31 118.21,507.40 117.60,510.00 C116.75,513.67 115.76,518.53 115.20,523.40 C114.54,529.14 114.53,536.00 114.20,542.30" fill="none" stroke="#996633" stroke-width="3.3" stroke-linejoin="round" stroke-linecap="butt"/>
<path d="M245.60,380.30 C247.97,379.50 250.11,378.78 252.70,377.90 C255.82,376.84 259.92,375.62 263.00,374.40 C265.59,373.37 267.43,372.21 270.00,371.20 C273.01,370.02 276.35,369.26 280.00,367.90 C284.57,366.20 290.11,363.51 295.20,361.60 C300.21,359.72 305.24,358.07 310.30,356.50 C315.34,354.94 320.20,353.24 325.50,352.20 C331.13,351.09 337.30,350.20 343.20,350.20 C349.10,350.20 355.59,350.76 360.90,352.20 C365.59,353.47 369.82,355.21 373.60,357.80 C377.43,360.42 380.63,364.58 383.70,367.90 C386.48,370.91 388.87,374.42 391.30,376.80 C393.19,378.66 394.97,379.80 396.80,381.30" fill="none" stroke="#00ffff" stroke-width="3.3" stroke-linejoin="round" stroke-linecap="butt"/>
<path d="M234.20,382.30 C232.10,384.40 230.00,386.50 227.90,388.60 C225.80,390.70 223.60,392.76 221.60,394.90 C219.64,396.99 217.86,399.17 216.00,401.30 C214.16,403.41 212.33,405.50 210.50,407.60 C208.67,409.70 206.83,411.80 205.00,413.90 C203.17,416.00 201.40,418.01 199.50,420.20 C197.44,422.57 195.23,425.02 193.10,427.60 C190.86,430.31 188.62,433.26 186.40,436.10 C184.19,438.93 182.00,441.76 179.80,444.60 C177.60,447.46 175.50,450.59 173.20,453.20 C171.06,455.63 168.83,457.63 166.50,459.80 C164.10,462.03 161.17,464.51 159.00,466.40 C157.34,467.84 156.19,468.73 154.60,470.20 C152.59,472.07 150.14,474.38 148.00,476.80 C145.69,479.41 143.69,482.69 141.30,485.40 C138.92,488.09 136.23,490.86 133.70,493.00 C131.50,494.86 129.11,496.19 127.10,497.70 C125.35,499.01 123.55,499.87 122.30,501.50 C120.95,503.27 120.13,505.85 119.50,508.10 C118.88,510.29 118.92,512.43 118.50,514.80 C118.02,517.49 117.15,519.96 116.70,523.40 C116.04,528.46 116.03,536.00 115.70,542.30" fill="none" stroke="#00ffff" stroke-width="3.3" stroke-linejoin="round" stroke-linecap="butt"/>
<path d="M400.80,382.60 C399.43,385.50 398.18,388.43 396.70,391.30 C395.19,394.23 393.73,396.64 391.80,400.00 C389.13,404.66 385.45,410.93 382.10,416.60 C378.56,422.58 374.82,429.34 371.10,435.00 C367.74,440.12 363.66,445.05 360.90,449.20 C358.84,452.29 357.39,454.79 355.80,457.50 C354.30,460.05 352.83,462.87 351.60,465.00 C350.67,466.61 350.17,467.71 349.10,469.20 C347.70,471.14 345.48,473.31 343.70,475.50 C341.85,477.77 340.02,480.15 338.20,482.60 C336.31,485.14 334.25,487.73 332.60,490.50 C330.95,493.27 329.73,496.30 328.30,499.20" fill="none" stroke="#00ffff" stroke-width="3.3" stroke-linejoin="round" stroke-linecap="butt"/>
<path d="M118.00,542.30 C118.30,537.87 118.47,533.71 118.90,529.00 C119.39,523.65 119.82,516.02 120.90,511.90 C121.55,509.43 122.21,507.82 123.30,506.20 C124.32,504.69 125.57,503.57 127.10,502.40 C128.92,501.00 131.37,499.69 133.70,498.60 C136.10,497.48 138.71,496.85 141.30,495.80 C144.07,494.67 147.13,493.57 149.80,492.00 C152.50,490.41 154.94,488.43 157.40,486.30 C160.02,484.03 162.38,480.97 165.00,478.70 C167.46,476.57 170.05,474.76 172.60,473.00 C175.05,471.31 177.57,469.99 180.00,468.30 C182.50,466.56 184.55,464.63 187.40,462.70 C190.99,460.27 195.54,458.00 200.00,455.10 C205.27,451.67 211.64,446.88 216.90,443.30 C221.44,440.21 225.31,437.68 229.70,434.80 C234.30,431.78 239.14,428.58 243.90,425.60 C248.61,422.65 253.49,419.80 258.10,417.00 C262.48,414.34 266.94,411.33 270.90,409.20 C274.14,407.45 276.54,406.33 280.00,404.90 C284.38,403.09 290.10,400.63 295.20,399.50 C300.10,398.42 305.50,398.42 310.00,398.10 C313.77,397.83 316.94,397.40 320.40,397.60 C323.90,397.80 327.71,397.99 330.90,399.30 C334.07,400.60 337.17,402.90 339.50,405.40 C341.79,407.85 343.59,410.82 344.80,414.10 C346.14,417.71 346.52,422.23 346.80,426.30 C347.08,430.33 346.94,434.43 346.50,438.40 C346.07,442.33 345.17,446.52 344.20,450.00 C343.38,452.95 342.09,455.45 341.30,458.00 C340.60,460.26 340.16,462.22 339.60,464.50 C338.99,467.00 338.68,469.97 337.80,472.40 C336.98,474.67 335.68,476.53 334.60,478.70 C333.45,480.99 332.28,483.44 331.10,485.80 C329.92,488.17 328.45,490.57 327.50,492.90 C326.63,495.03 325.99,497.38 325.50,499.20 C325.13,500.56 324.97,501.60 324.70,502.80" fill="none" stroke="#ff8000" stroke-width="3.3" stroke-linejoin="round" stroke-linecap="butt"/>
<path d="M120.50,542.30 C121.23,538.50 121.65,534.47 122.70,530.90 C123.69,527.56 124.96,524.58 126.50,521.50 C128.11,518.28 129.91,514.73 132.20,512.00 C134.38,509.40 136.72,507.21 139.80,505.40 C143.44,503.26 148.13,501.83 153.00,500.60 C158.69,499.16 165.68,498.75 172.00,497.80 C178.31,496.85 184.31,495.94 190.90,494.90 C198.15,493.76 206.11,492.45 213.70,491.20 C221.28,489.95 229.58,488.40 236.40,487.40 C241.96,486.59 246.53,485.82 251.60,485.50 C256.63,485.19 261.83,485.34 266.70,485.50 C271.28,485.65 276.74,485.80 280.00,486.40 C281.96,486.76 282.67,487.20 284.60,487.80 C287.89,488.83 293.67,490.53 297.90,492.10 C301.88,493.58 306.06,495.29 309.30,496.90 C311.84,498.16 314.48,499.07 315.90,500.70 C317.06,502.03 317.75,503.75 317.80,505.40 C317.86,507.20 316.85,509.37 315.90,511.10 C314.95,512.84 313.52,514.38 312.10,515.80 C310.68,517.22 308.97,518.33 307.40,519.60" fill="none" stroke="#ff0000" stroke-width="3.3" stroke-linejoin="round" stroke-linecap="butt"/>
<path d="M125.00,542.30 C126.13,537.87 126.79,533.07 128.40,529.00 C129.89,525.22 131.80,521.64 134.10,518.60 C136.28,515.72 138.72,513.24 141.70,511.10 C144.94,508.77 148.98,506.82 153.00,505.40 C157.17,503.92 161.45,503.32 166.30,502.50 C172.05,501.53 178.55,500.94 185.30,500.20 C192.97,499.36 201.86,498.42 209.90,497.80 C217.61,497.20 224.61,496.81 232.60,496.50 C241.53,496.15 253.16,495.71 261.00,495.90 C266.55,496.04 270.40,496.43 275.20,496.90 C280.16,497.39 285.44,497.98 290.30,498.80 C294.89,499.57 299.85,500.29 303.60,501.60 C306.56,502.63 309.89,503.66 311.20,505.40 C312.19,506.70 312.34,508.31 312.10,510.10 C311.74,512.77 309.32,516.72 307.40,519.60 C305.53,522.41 303.10,524.93 300.80,527.20 C298.65,529.33 296.33,531.00 294.10,532.90" fill="none" stroke="#0000ff" stroke-width="3.3" stroke-linejoin="round" stroke-linecap="butt"/>
<path d="M140.20,541.90 C142.60,538.57 144.66,534.97 147.40,531.90 C150.18,528.79 153.21,525.86 156.80,523.40 C160.69,520.73 165.44,518.58 170.10,516.70 C174.92,514.76 179.92,513.37 185.30,512.00 C191.22,510.49 197.87,509.15 204.20,508.20 C210.50,507.25 216.87,506.77 223.20,506.30 C229.50,505.84 235.80,505.55 242.10,505.40 C248.40,505.25 255.64,505.14 261.00,505.40 C264.99,505.59 267.90,505.67 271.40,506.40 C275.13,507.18 279.26,508.59 282.70,510.10 C285.83,511.47 289.46,512.99 291.30,514.90 C292.65,516.30 293.48,517.85 293.70,519.60 C293.95,521.60 293.18,524.03 292.20,526.30 C291.01,529.07 288.56,532.11 286.50,534.80 C284.46,537.47 282.10,539.87 279.90,542.40" fill="none" stroke="#000000" stroke-width="3.3" stroke-linejoin="round" stroke-linecap="butt"/>
<path d="M902.30,51.50 C902.30,167.67 902.61,328.10 902.30,400.00 C902.16,432.22 901.87,456.10 901.70,470.00 C901.63,475.90 901.59,478.51 901.50,482.60 C901.42,486.50 902.09,491.18 901.20,494.00 C900.60,495.92 899.29,497.16 898.30,498.40 C897.48,499.42 896.47,499.82 895.80,501.00 C894.85,502.67 894.65,505.67 893.90,507.90 C893.17,510.07 892.10,511.89 891.40,514.20 C890.59,516.88 890.05,520.24 889.50,523.10 C888.99,525.73 888.60,528.02 888.20,530.70 C887.76,533.69 887.40,537.03 887.00,540.20" fill="none" stroke="#00ff00" stroke-width="3.3" stroke-linejoin="round" stroke-linecap="butt"/>
<path d="M909.10,51.50 C909.10,167.67 909.46,328.10 909.10,400.00 C908.94,432.23 908.58,456.10 908.40,470.00 C908.32,475.90 908.35,478.62 908.20,482.60 C908.07,486.18 908.33,490.16 907.60,492.80 C907.09,494.64 906.34,495.70 905.30,497.20 C904.01,499.06 901.69,500.88 900.20,502.90 C898.73,504.88 897.46,507.06 896.40,509.20 C895.38,511.26 894.62,513.28 893.90,515.50 C893.13,517.89 892.53,520.56 892.00,523.10 C891.47,525.62 891.10,528.02 890.70,530.70 C890.26,533.69 889.90,537.03 889.50,540.20" fill="none" stroke="#996633" stroke-width="3.3" stroke-linejoin="round" stroke-linecap="butt"/>
<path d="M921.30,51.50 C921.27,167.67 921.72,328.10 921.20,400.00 C920.97,432.23 920.52,456.10 920.20,470.00 C920.06,475.90 919.99,478.77 919.80,482.60 C919.64,485.83 919.75,488.99 919.20,491.50 C918.78,493.44 918.37,494.94 917.30,496.50 C916.02,498.36 913.52,499.78 911.60,501.60 C909.53,503.56 907.24,505.75 905.30,507.90 C903.45,509.95 901.64,511.81 900.20,514.20 C898.62,516.82 897.43,520.22 896.40,523.10 C895.47,525.70 894.81,528.01 894.20,530.70 C893.52,533.67 893.13,537.03 892.60,540.20" fill="none" stroke="#00ffff" stroke-width="3.3" stroke-linejoin="round" stroke-linecap="butt"/>
<path d="M974.90,51.50 C974.80,134.33 974.78,230.47 974.60,300.00 C974.47,350.29 974.46,406.08 974.10,430.00 C973.96,439.12 973.85,442.59 973.60,448.90 C973.35,455.23 972.91,462.28 972.60,467.90 C972.35,472.39 972.25,476.36 971.90,480.00 C971.61,483.00 971.55,485.71 970.80,488.20 C970.12,490.47 969.31,492.77 967.80,494.40 C966.26,496.06 963.98,496.84 961.60,498.00 C958.65,499.44 954.71,500.65 951.30,502.10 C947.88,503.55 944.42,504.81 941.10,506.70 C937.58,508.70 934.16,511.24 930.80,513.90 C927.28,516.68 923.40,520.12 920.50,523.10 C918.10,525.56 916.24,527.66 914.40,530.30 C912.45,533.10 910.93,536.43 909.20,539.50" fill="none" stroke="#ff8000" stroke-width="3.3" stroke-linejoin="round" stroke-linecap="butt"/>
<path d="M1017.70,51.50 C1017.53,134.33 1017.54,230.47 1017.20,300.00 C1016.96,350.29 1016.55,406.08 1016.20,430.00 C1016.07,439.12 1016.03,442.59 1015.80,448.90 C1015.57,455.23 1015.25,461.93 1014.80,467.90 C1014.40,473.23 1014.23,478.97 1013.30,483.00 C1012.65,485.83 1011.76,488.35 1010.70,490.00 C1009.99,491.11 1009.28,491.58 1008.30,492.40 C1007.03,493.47 1005.31,494.81 1003.60,495.70 C1001.85,496.62 1000.06,497.15 997.90,497.80 C995.16,498.62 991.56,499.25 988.40,500.00 C985.26,500.75 982.12,501.38 979.00,502.30 C975.82,503.24 972.64,504.35 969.50,505.60 C966.30,506.88 962.88,508.59 960.00,509.90 C957.60,510.99 955.90,511.61 953.40,512.90 C949.90,514.70 944.92,517.38 941.10,520.00 C937.41,522.53 933.99,525.14 930.80,528.30 C927.46,531.61 924.67,535.77 921.60,539.50" fill="none" stroke="#ff0000" stroke-width="3.3" stroke-linejoin="round" stroke-linecap="butt"/>
<path d="M1410.40,51.50 C1410.53,87.67 1410.60,123.71 1410.80,160.00 C1411.00,196.54 1411.34,235.17 1411.60,270.00 C1411.84,301.50 1411.79,340.78 1412.30,360.00 C1412.54,369.06 1412.82,373.34 1413.20,380.00 C1413.58,386.67 1414.23,393.60 1414.60,400.00 C1414.94,405.89 1415.14,411.50 1415.40,417.00 C1415.64,422.18 1415.87,427.07 1416.10,432.10" fill="none" stroke="#ff8000" stroke-width="3.3" stroke-linejoin="round" stroke-linecap="butt"/>
<path d="M1390.90,51.50 C1391.00,87.67 1390.98,123.71 1391.20,160.00 C1391.42,196.54 1391.88,233.33 1392.20,270.00 C1392.52,306.67 1392.33,358.48 1393.10,380.00 C1393.42,388.95 1393.92,392.03 1394.30,399.00 C1394.76,407.52 1395.04,418.28 1395.60,427.40 C1396.12,435.90 1396.51,445.08 1397.50,452.00 C1398.24,457.14 1399.40,462.01 1400.30,465.30 C1400.84,467.29 1401.21,468.32 1401.90,470.00 C1402.74,472.06 1403.84,474.38 1405.10,476.70 C1406.54,479.36 1408.17,482.57 1410.20,485.00 C1412.16,487.35 1414.73,489.07 1417.00,491.10" fill="none" stroke="#ff0000" stroke-width="3.3" stroke-linejoin="round" stroke-linecap="butt"/>
<path d="M968.30,539.78 C970.30,538.24 972.23,536.45 974.30,535.16 C976.24,533.95 978.29,533.14 980.30,532.19 C982.29,531.25 984.30,530.38 986.30,529.51 C988.30,528.64 990.30,527.78 992.30,526.95 C994.30,526.12 996.30,525.31 998.30,524.52 C1000.30,523.73 1002.30,522.96 1004.30,522.22 C1006.30,521.48 1008.30,520.77 1010.30,520.08 C1012.30,519.39 1014.30,518.73 1016.30,518.09 C1018.30,517.45 1020.30,516.84 1022.30,516.25 C1024.30,515.66 1026.30,515.11 1028.30,514.57 C1030.30,514.03 1032.30,513.52 1034.30,513.03 C1036.30,512.54 1038.30,512.08 1040.30,511.63 C1042.30,511.18 1044.30,510.75 1046.30,510.34 C1048.30,509.93 1050.30,509.55 1052.30,509.17 C1054.30,508.80 1056.30,508.44 1058.30,508.09 C1060.30,507.75 1062.30,507.42 1064.30,507.10 C1066.30,506.78 1068.30,506.48 1070.30,506.18 C1072.30,505.89 1074.30,505.61 1076.30,505.33 C1078.30,505.06 1080.30,504.79 1082.30,504.53 C1084.30,504.27 1086.30,504.03 1088.30,503.79 C1090.30,503.55 1092.30,503.32 1094.30,503.09 C1096.30,502.86 1098.30,502.64 1100.30,502.42 C1102.30,502.20 1104.30,501.99 1106.30,501.78 C1108.30,501.57 1110.30,501.36 1112.30,501.16 C1114.30,500.96 1116.30,500.76 1118.30,500.57 C1120.30,500.38 1122.30,500.19 1124.30,500.00 C1126.30,499.81 1128.30,499.63 1130.30,499.45 C1132.30,499.27 1134.30,499.09 1136.30,498.91 C1138.30,498.73 1140.30,498.56 1142.30,498.39 C1144.30,498.22 1146.30,498.05 1148.30,497.88 C1150.30,497.71 1152.30,497.55 1154.30,497.39 C1156.30,497.23 1158.30,497.07 1160.30,496.91 C1162.30,496.76 1164.30,496.61 1166.30,496.46 C1168.30,496.31 1170.30,496.16 1172.30,496.02 C1174.30,495.88 1176.30,495.74 1178.30,495.60 C1180.30,495.46 1182.30,495.33 1184.30,495.20 C1186.30,495.07 1188.30,494.95 1190.30,494.83 C1192.30,494.71 1194.30,494.59 1196.30,494.48 C1198.30,494.37 1200.30,494.26 1202.30,494.16 C1204.30,494.06 1206.30,493.97 1208.30,493.88 C1210.30,493.79 1212.30,493.70 1214.30,493.62 C1216.30,493.54 1218.30,493.48 1220.30,493.41 C1222.30,493.35 1224.30,493.28 1226.30,493.23 C1228.30,493.18 1230.30,493.13 1232.30,493.09 C1234.30,493.05 1236.30,493.02 1238.30,492.99 C1240.30,492.96 1242.30,492.94 1244.30,492.93 C1246.30,492.92 1248.30,492.92 1250.30,492.92 C1252.30,492.92 1254.30,492.94 1256.30,492.96 C1258.30,492.98 1260.30,493.01 1262.30,493.04 C1264.30,493.08 1266.30,493.12 1268.30,493.17 C1270.30,493.22 1272.30,493.28 1274.30,493.35 C1276.30,493.42 1278.30,493.49 1280.30,493.57 C1282.30,493.65 1284.30,493.74 1286.30,493.84 C1288.30,493.94 1290.30,494.04 1292.30,494.15 C1294.30,494.26 1296.30,494.38 1298.30,494.51 C1300.30,494.64 1302.30,494.77 1304.30,494.91 C1306.30,495.05 1308.30,495.20 1310.30,495.35 C1312.30,495.50 1314.30,495.67 1316.30,495.83 C1318.30,496.00 1320.30,496.17 1322.30,496.34 C1324.30,496.52 1326.30,496.70 1328.30,496.88 C1330.30,497.06 1332.30,497.25 1334.30,497.44 C1336.30,497.63 1338.30,497.83 1340.30,498.03 C1342.30,498.23 1344.30,498.42 1346.30,498.62 C1348.30,498.82 1350.30,499.03 1352.30,499.23 C1354.30,499.43 1356.30,499.63 1358.30,499.83 C1360.30,500.03 1362.30,500.23 1364.30,500.43 C1366.30,500.63 1368.30,500.82 1370.30,501.01 C1372.30,501.20 1374.30,501.39 1376.30,501.57 C1378.30,501.75 1380.30,501.92 1382.30,502.09 C1384.30,502.26 1386.30,502.42 1388.30,502.57 C1390.30,502.72 1392.30,502.86 1394.30,502.99 C1396.30,503.12 1398.30,503.24 1400.30,503.35 C1402.30,503.45 1404.30,503.54 1406.30,503.62 C1408.30,503.69 1410.42,503.76 1412.30,503.80 C1413.96,503.84 1415.43,503.85 1417.00,503.87" fill="none" stroke="#0000ff" stroke-width="3.3" stroke-linejoin="round" stroke-linecap="butt"/>
<path d="M992.70,539.80 C994.70,538.71 996.71,537.64 998.70,536.52 C1000.71,535.39 1002.68,534.13 1004.70,533.05 C1006.68,531.99 1008.69,530.99 1010.70,530.07 C1012.69,529.16 1014.69,528.33 1016.70,527.55 C1018.69,526.77 1020.69,526.06 1022.70,525.38 C1024.69,524.71 1026.70,524.09 1028.70,523.50 C1030.70,522.91 1032.70,522.36 1034.70,521.83 C1036.70,521.30 1038.70,520.81 1040.70,520.33 C1042.70,519.85 1044.70,519.40 1046.70,518.96 C1048.70,518.52 1050.70,518.11 1052.70,517.70 C1054.70,517.30 1056.70,516.91 1058.70,516.53 C1060.70,516.15 1062.70,515.79 1064.70,515.43 C1066.70,515.07 1068.70,514.73 1070.70,514.39 C1072.70,514.05 1074.70,513.72 1076.70,513.40 C1078.70,513.08 1080.70,512.77 1082.70,512.46 C1084.70,512.16 1086.70,511.86 1088.70,511.57 C1090.70,511.28 1092.70,511.01 1094.70,510.73 C1096.70,510.46 1098.70,510.18 1100.70,509.92 C1102.70,509.66 1104.70,509.40 1106.70,509.15 C1108.70,508.90 1110.70,508.66 1112.70,508.42 C1114.70,508.19 1116.70,507.96 1118.70,507.74 C1120.70,507.52 1122.70,507.29 1124.70,507.08 C1126.70,506.87 1128.70,506.67 1130.70,506.47 C1132.70,506.27 1134.70,506.09 1136.70,505.90 C1138.70,505.72 1140.70,505.53 1142.70,505.36 C1144.70,505.19 1146.70,505.02 1148.70,504.86 C1150.70,504.70 1152.70,504.54 1154.70,504.39 C1156.70,504.24 1158.70,504.10 1160.70,503.96 C1162.70,503.82 1164.70,503.70 1166.70,503.57 C1168.70,503.45 1170.70,503.33 1172.70,503.21 C1174.70,503.10 1176.70,502.98 1178.70,502.88 C1180.70,502.78 1182.70,502.68 1184.70,502.59 C1186.70,502.50 1188.70,502.41 1190.70,502.33 C1192.70,502.25 1194.70,502.17 1196.70,502.10 C1198.70,502.03 1200.70,501.96 1202.70,501.90 C1204.70,501.84 1206.70,501.78 1208.70,501.73 C1210.70,501.68 1212.70,501.62 1214.70,501.58 C1216.70,501.54 1218.70,501.50 1220.70,501.47 C1222.70,501.44 1224.70,501.41 1226.70,501.38 C1228.70,501.35 1230.70,501.33 1232.70,501.31 C1234.70,501.29 1236.70,501.28 1238.70,501.27 C1240.70,501.26 1242.70,501.25 1244.70,501.25 C1246.70,501.25 1248.70,501.25 1250.70,501.25 C1252.70,501.25 1254.70,501.26 1256.70,501.27 C1258.70,501.28 1260.70,501.29 1262.70,501.31 C1264.70,501.33 1266.70,501.35 1268.70,501.37 C1270.70,501.39 1272.70,501.42 1274.70,501.45 C1276.70,501.48 1278.70,501.51 1280.70,501.55 C1282.70,501.59 1284.70,501.63 1286.70,501.67 C1288.70,501.71 1290.70,501.75 1292.70,501.80 C1294.70,501.85 1296.70,501.91 1298.70,501.96 C1300.70,502.02 1302.70,502.07 1304.70,502.13 C1306.70,502.19 1308.70,502.25 1310.70,502.32 C1312.70,502.39 1314.70,502.46 1316.70,502.53 C1318.70,502.60 1320.70,502.68 1322.70,502.76 C1324.70,502.84 1326.70,502.92 1328.70,503.01 C1330.70,503.10 1332.70,503.19 1334.70,503.29 C1336.70,503.39 1338.70,503.49 1340.70,503.59 C1342.70,503.70 1344.70,503.81 1346.70,503.92 C1348.70,504.04 1350.70,504.16 1352.70,504.28 C1354.70,504.40 1356.70,504.53 1358.70,504.66 C1360.70,504.79 1362.70,504.93 1364.70,505.08 C1366.70,505.23 1368.70,505.38 1370.70,505.54 C1372.70,505.70 1374.70,505.86 1376.70,506.03 C1378.70,506.20 1380.70,506.38 1382.70,506.57 C1384.70,506.76 1386.70,506.96 1388.70,507.16 C1390.70,507.36 1392.70,507.57 1394.70,507.79 C1396.70,508.01 1398.70,508.25 1400.70,508.49 C1402.70,508.73 1404.70,508.98 1406.70,509.24 C1408.70,509.50 1410.87,509.79 1412.70,510.05 C1414.25,510.27 1415.57,510.47 1417.00,510.68" fill="none" stroke="#000000" stroke-width="3.3" stroke-linejoin="round" stroke-linecap="butt"/>
<line x1="514.9" y1="289.5" x2="557.0" y2="289.5" stroke="#000000" stroke-width="3.3"/>
<text transform="translate(568.12,295.84) scale(0.2950,0.2608)" font-size="100"  stroke="#000" stroke-width="1.259">400 fb</text>
<line x1="514.9" y1="325.6" x2="557.0" y2="325.6" stroke="#0000ff" stroke-width="3.3"/>
<text transform="translate(568.12,331.94) scale(0.2950,0.2608)" font-size="100"  stroke="#000" stroke-width="1.259">100 fb</text>
<line x1="514.9" y1="361.7" x2="557.0" y2="361.7" stroke="#ff0000" stroke-width="3.3"/>
<text transform="translate(568.12,368.04) scale(0.2950,0.2608)" font-size="100"  stroke="#000" stroke-width="1.259">50 fb</text>
<line x1="514.9" y1="397.8" x2="557.0" y2="397.8" stroke="#ff8000" stroke-width="3.3"/>
<text transform="translate(568.12,404.14) scale(0.2950,0.2608)" font-size="100"  stroke="#000" stroke-width="1.259">10 fb</text>
<line x1="514.9" y1="433.9" x2="557.0" y2="433.9" stroke="#00ffff" stroke-width="3.3"/>
<text transform="translate(568.12,440.24) scale(0.2950,0.2608)" font-size="100"  stroke="#000" stroke-width="1.259">5 fb</text>
<line x1="514.9" y1="470.0" x2="557.0" y2="470.0" stroke="#996633" stroke-width="3.3"/>
<text transform="translate(568.12,476.34) scale(0.2950,0.2608)" font-size="100"  stroke="#000" stroke-width="1.259">3 fb</text>
<line x1="514.9" y1="506.1" x2="557.0" y2="506.1" stroke="#00ff00" stroke-width="3.3"/>
<text transform="translate(568.12,512.44) scale(0.2950,0.2608)" font-size="100"  stroke="#000" stroke-width="1.259">1 fb</text>
<line x1="1033.3" y1="241.1" x2="1075.8" y2="241.1" stroke="#000000" stroke-width="3.3"/>
<text transform="translate(1086.32,248.14) scale(0.2950,0.2608)" font-size="100"  stroke="#000" stroke-width="1.259">600 fb</text>
<line x1="1033.3" y1="277.5" x2="1075.8" y2="277.5" stroke="#0000ff" stroke-width="3.3"/>
<text transform="translate(1086.32,284.54) scale(0.2950,0.2608)" font-size="100"  stroke="#000" stroke-width="1.259">400 fb</text>
<line x1="1033.3" y1="313.9" x2="1075.8" y2="313.9" stroke="#ff0000" stroke-width="3.3"/>
<text transform="translate(1086.32,320.94) scale(0.2950,0.2608)" font-size="100"  stroke="#000" stroke-width="1.259">100 fb</text>
<line x1="1033.3" y1="350.3" x2="1075.8" y2="350.3" stroke="#ff8000" stroke-width="3.3"/>
<text transform="translate(1086.32,357.34) scale(0.2950,0.2608)" font-size="100"  stroke="#000" stroke-width="1.259">50 fb</text>
<line x1="1194.9" y1="241.1" x2="1236.9" y2="241.1" stroke="#00ffff" stroke-width="3.3"/>
<text transform="translate(1249.17,248.14) scale(0.2950,0.2608)" font-size="100"  stroke="#000" stroke-width="1.259">10 fb</text>
<line x1="1194.9" y1="277.5" x2="1236.9" y2="277.5" stroke="#996633" stroke-width="3.3"/>
<text transform="translate(1249.17,284.54) scale(0.2950,0.2608)" font-size="100"  stroke="#000" stroke-width="1.259">5 fb</text>
<line x1="1194.9" y1="313.9" x2="1236.9" y2="313.9" stroke="#00ff00" stroke-width="3.3"/>
<text transform="translate(1249.17,320.94) scale(0.2950,0.2608)" font-size="100"  stroke="#000" stroke-width="1.259">3 fb</text>
<text transform="translate(13.50,30.80) scale(0.3873,0.3630)" font-size="100"  stroke="#000" stroke-width="0.933"><tspan font-style="italic">σ</tspan> x BR(<tspan font-style="italic">H</tspan><tspan font-size="66" dy="13.4">2</tspan></text>
<text transform="translate(186.83,34.64) scale(0.3786,0.4085)" font-size="100" font-family="DejaVu Sans" stroke="#000" stroke-width="0.889">→</text>
<text transform="translate(221.25,30.80) scale(0.3862,0.3630)" font-size="100"  stroke="#000" stroke-width="0.934"><tspan font-style="italic">v</tspan><tspan font-size="66" font-style="italic" dy="13.4">h</tspan><tspan font-style="italic" dy="-13.4" dx="8">v</tspan><tspan font-size="66" font-style="italic" dy="13.4">h</tspan><tspan dy="-13.4" dx="6">)</tspan><tspan dx="-4"> [fb]</tspan></text>
<text transform="translate(400.93,30.80) scale(0.3857,0.3630)" font-size="100"  stroke="#000" stroke-width="0.935">x = <tspan font-style="italic">M</tspan><tspan font-size="66" font-style="italic" dy="13.4">Z'</tspan><tspan dy="-13.4">/(2g')=3.8 TeV</tspan></text>
<text transform="translate(767.20,30.70) scale(0.3861,0.3630)" font-size="100"  stroke="#000" stroke-width="0.935"><tspan font-style="italic">σ</tspan> x BR(<tspan font-style="italic">H</tspan><tspan font-size="66" dy="13.4">1,2</tspan></text>
<text transform="translate(961.53,34.74) scale(0.3786,0.4180)" font-size="100" font-family="DejaVu Sans" stroke="#000" stroke-width="0.879">→</text>
<text transform="translate(995.86,30.70) scale(0.3843,0.3630)" font-size="100"  stroke="#000" stroke-width="0.937"><tspan font-style="italic">v</tspan><tspan font-size="66" font-style="italic" dy="13.4">h</tspan><tspan font-style="italic" dy="-13.4" dx="8">v</tspan><tspan font-size="66" font-style="italic" dy="13.4">h</tspan><tspan dy="-13.4" dx="6">)</tspan><tspan dx="-4"> [fb]</tspan></text>
<text transform="translate(1174.73,30.70) scale(0.3852,0.3630)" font-size="100"  stroke="#000" stroke-width="0.936">x = <tspan font-style="italic">M</tspan><tspan font-size="66" font-style="italic" dy="13.4">Z'</tspan><tspan dy="-13.4">/(2g')=3.8 TeV</tspan></text>
<text transform="translate(11.04,69.87) scale(0.3431,0.3407)" font-size="100" font-weight="bold" stroke="#000" stroke-width="1.024">A</text>
<text transform="translate(772.00,69.70) scale(0.3282,0.3420)" font-size="100" font-weight="bold" stroke="#000" stroke-width="1.044">B</text>
<text transform="translate(106.87,124.43) scale(0.2988,0.2718)" font-size="100"  stroke="#000" stroke-width="1.227"><tspan font-style="italic">α</tspan> = 0.3</text>
<text transform="translate(1178.87,103.45) scale(0.3845,0.3479)" font-size="100"  stroke="#000" stroke-width="0.956"><tspan font-style="italic">α</tspan> = 0.3</text>
<text transform="translate(300.40,620.60) scale(0.3996,0.3530)" font-size="100"  stroke="#000" stroke-width="0.930"><tspan font-style="italic">m</tspan><tspan font-size="66" font-style="italic" dy="14.5">v</tspan><tspan font-size="66">h</tspan></text>
<text transform="translate(372.18,620.50) scale(0.3801,0.3520)" font-size="100"  stroke="#000" stroke-width="0.956">[GeV]</text>
<text transform="translate(1063.70,619.90) scale(0.4003,0.3500)" font-size="100"  stroke="#000" stroke-width="0.933"><tspan font-style="italic">m</tspan><tspan font-size="66" font-style="italic" dy="14.5">v</tspan><tspan font-size="66">h</tspan></text>
<text transform="translate(1135.88,619.30) scale(0.3805,0.3500)" font-size="100"  stroke="#000" stroke-width="0.958">[GeV]</text>
<text transform="translate(33.90,371.42) rotate(-90) scale(0.3521,0.3830)" font-size="100"  stroke="#000" stroke-width="0.952"><tspan font-style="italic">m</tspan><tspan font-size="66" font-style="italic" dy="13.4">H</tspan><tspan font-size="46" dy="7">2</tspan></text>
<text transform="translate(33.90,304.51) rotate(-90) scale(0.3375,0.3900)" font-size="100"  stroke="#000" stroke-width="0.962">[GeV]</text>
<text transform="translate(803.00,372.83) rotate(-90) scale(0.3574,0.3830)" font-size="100"  stroke="#000" stroke-width="0.945"><tspan font-style="italic">m</tspan><tspan font-size="66" font-style="italic" dy="13.4">H</tspan><tspan font-size="46" dy="7">2</tspan></text>
<text transform="translate(803.00,305.54) rotate(-90) scale(0.3416,0.3900)" font-size="100"  stroke="#000" stroke-width="0.957">[GeV]</text>
<text transform="translate(61.37,519.80) scale(0.1935,0.1700)" font-size="100"  stroke="#000" stroke-width="1.925">150</text>
<text transform="translate(830.17,518.40) scale(0.1935,0.1880)" font-size="100"  stroke="#000" stroke-width="1.835">150</text>
<text transform="translate(61.37,453.25) scale(0.1935,0.1700)" font-size="100"  stroke="#000" stroke-width="1.925">200</text>
<text transform="translate(830.17,452.63) scale(0.1935,0.1880)" font-size="100"  stroke="#000" stroke-width="1.835">200</text>
<text transform="translate(61.37,386.71) scale(0.1935,0.1700)" font-size="100"  stroke="#000" stroke-width="1.925">250</text>
<text transform="translate(830.17,386.86) scale(0.1935,0.1880)" font-size="100"  stroke="#000" stroke-width="1.835">250</text>
<text transform="translate(61.37,320.17) scale(0.1935,0.1700)" font-size="100"  stroke="#000" stroke-width="1.925">300</text>
<text transform="translate(830.17,321.09) scale(0.1935,0.1880)" font-size="100"  stroke="#000" stroke-width="1.835">300</text>
<text transform="translate(61.37,253.62) scale(0.1935,0.1700)" font-size="100"  stroke="#000" stroke-width="1.925">350</text>
<text transform="translate(830.17,255.32) scale(0.1935,0.1880)" font-size="100"  stroke="#000" stroke-width="1.835">350</text>
<text transform="translate(61.37,187.08) scale(0.1935,0.1700)" font-size="100"  stroke="#000" stroke-width="1.925">400</text>
<text transform="translate(830.17,189.55) scale(0.1935,0.1880)" font-size="100"  stroke="#000" stroke-width="1.835">400</text>
<text transform="translate(61.37,120.53) scale(0.1935,0.1700)" font-size="100"  stroke="#000" stroke-width="1.925">450</text>
<text transform="translate(830.17,123.78) scale(0.1935,0.1880)" font-size="100"  stroke="#000" stroke-width="1.835">450</text>
<text transform="translate(61.37,53.98) scale(0.1935,0.1700)" font-size="100"  stroke="#000" stroke-width="1.925">500</text>
<text transform="translate(830.17,58.01) scale(0.1935,0.1880)" font-size="100"  stroke="#000" stroke-width="1.835">500</text>
<text transform="translate(106.26,573.00) scale(0.1887,0.1750)" font-size="100"  stroke="#000" stroke-width="1.925">0</text>
<text transform="translate(237.78,573.00) scale(0.1887,0.1750)" font-size="100"  stroke="#000" stroke-width="1.925">50</text>
<text transform="translate(369.01,573.00) scale(0.1887,0.1750)" font-size="100"  stroke="#000" stroke-width="1.925">100</text>
<text transform="translate(505.81,573.00) scale(0.1887,0.1750)" font-size="100"  stroke="#000" stroke-width="1.925">150</text>
<text transform="translate(642.86,573.00) scale(0.1887,0.1750)" font-size="100"  stroke="#000" stroke-width="1.925">200</text>
<text transform="translate(873.94,570.50) scale(0.1964,0.1900)" font-size="100"  stroke="#000" stroke-width="1.811">0</text>
<text transform="translate(957.55,570.50) scale(0.1964,0.1900)" font-size="100"  stroke="#000" stroke-width="1.811">10</text>
<text transform="translate(1047.24,570.50) scale(0.1964,0.1900)" font-size="100"  stroke="#000" stroke-width="1.811">20</text>
<text transform="translate(1136.76,570.50) scale(0.1964,0.1900)" font-size="100"  stroke="#000" stroke-width="1.811">30</text>
<text transform="translate(1226.37,570.50) scale(0.1964,0.1900)" font-size="100"  stroke="#000" stroke-width="1.811">40</text>
<text transform="translate(1315.60,570.50) scale(0.1964,0.1900)" font-size="100"  stroke="#000" stroke-width="1.811">50</text>
<text transform="translate(1404.95,570.50) scale(0.1964,0.1900)" font-size="100"  stroke="#000" stroke-width="1.811">60</text>
</svg></body></html>
